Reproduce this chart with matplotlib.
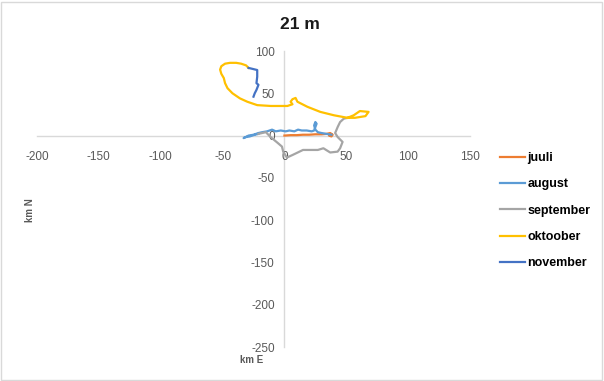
import numpy as np
import matplotlib
matplotlib.use('Agg')
import matplotlib.pyplot as plt

plt.rcParams['axes.unicode_minus'] = False

# trajektoorid, km E / km N
juuli_x = [0, 5, 10, 15, 20, 25, 30, 34, 37, 39, 38, 36, 38]
juuli_y = [0, 0.5, 0.5, 1, 1, 1.5, 1.5, 2, 3, 1, -1, 0, 1]

august_x = [38, 34, 30, 27, 25, 24, 25, 26, 25, 24, 22, 18, 14, 11, 8, 4, 1, -3, -7, -10,
            -14, -18, -21, -25, -29, -33, -32, -28, -24, -21]
august_y = [1, 2, 3, 4, 7, 12, 16, 14, 10, 6, 5, 6, 6, 7, 5, 6, 5, 6, 5, 7,
            5, 4, 3, 1, 0, -3, -2, -1, 1, 2]

september_x = [-21, -15, -11, -6, -2, -1, 2, 6.5, 15, 27, 31.5, 37, 43, 45, 47, 43, 41, 43, 45, 48, 51]
september_y = [2, 4, -2, -8, -13, -19, -26, -23, -17, -17, -15, -20, -19, -15, -7.5, -1.7, 3, 10, 16, 20, 21]

oktoober_x = [51, 56, 61, 68, 65.5, 57, 51, 40, 29, 18.6, 10.5, 9, 6.5, 5, 6.5, 2.4, -3, -11, -22,
              -30, -36, -42, -46, -48, -49, -51, -52, -51, -48, -44, -39, -35, -31, -29]
oktoober_y = [21, 24, 29, 28, 23, 21, 21, 24, 28, 34, 40, 44.5, 43, 40, 37, 35, 35, 35, 36,
              40, 44, 50, 56, 62, 68, 73, 78, 82, 85, 86, 86, 85, 83, 80]

november_x = [-29, -22, -22, -22.6, -21, -22.6, -24, -25]
november_y = [80, 77.5, 69.6, 62, 60, 54, 50, 46]

series = [
    ('juuli', juuli_x, juuli_y, '#ed7d31'),
    ('august', august_x, august_y, '#5b9bd5'),
    ('september', september_x, september_y, '#a5a5a5'),
    ('oktoober', oktoober_x, oktoober_y, '#ffc000'),
    ('november', november_x, november_y, '#4472c4'),
]

fig = plt.figure(figsize=(6.04, 3.81), dpi=100)
ax = fig.add_axes([37 / 604, 34 / 381, 433 / 604, 296 / 381])

for name, xs, ys, col in series:
    ax.plot(xs, ys, color=col, lw=1.6, label=name, solid_joinstyle='round')

ax.set_xlim(-200, 150)
ax.set_ylim(-250, 100)
ax.set_xticks(np.arange(-200, 151, 50))
ax.set_yticks(np.arange(-250, 101, 50))

for s in ['top', 'right']:
    ax.spines[s].set_visible(False)
ax.spines['left'].set_position(('data', 0))
ax.spines['bottom'].set_position(('data', 0))
for s in ['left', 'bottom']:
    ax.spines[s].set_color('#d9d9d9')
    ax.spines[s].set_linewidth(1.0)
    ax.spines[s].set_zorder(0)
ax.tick_params(length=0, labelsize=8.5, labelcolor='#595959', labelfontfamily='Liberation Sans')
ax.tick_params(axis='x', pad=11)
ax.tick_params(axis='y', pad=7)
ax.patch.set_visible(False)

fig.text(0.497, 0.935, '21 m', ha='center', va='center', fontsize=12.5, fontweight='bold',
         family='Liberation Sans', color='#1a1a1a')
fig.text(30 / 604, 1 - 210 / 381, 'km N', rotation=90, ha='center', va='center', fontsize=7,
         fontweight='bold', family='Liberation Sans', color='#595959')
fig.text(252 / 604, 1 - 360 / 381, 'km E', ha='center', va='center', fontsize=7,
         fontweight='bold', family='Liberation Sans', color='#595959')

fig.legend(loc='upper left', bbox_to_anchor=(500 / 604, 1 - 152 / 381), frameon=False,
           borderpad=0, borderaxespad=0, handlelength=2.0, handletextpad=0.2,
           labelspacing=1.15, prop={'family': 'Liberation Sans', 'weight': 'bold', 'size': 9})

# raam ümber joonise
fig.patches.append(plt.Rectangle((0.002, 0.003), 0.995, 0.993, transform=fig.transFigure,
                                 fill=False, edgecolor='#d9d9d9', lw=1))

plt.savefig('out.png', dpi=100)
